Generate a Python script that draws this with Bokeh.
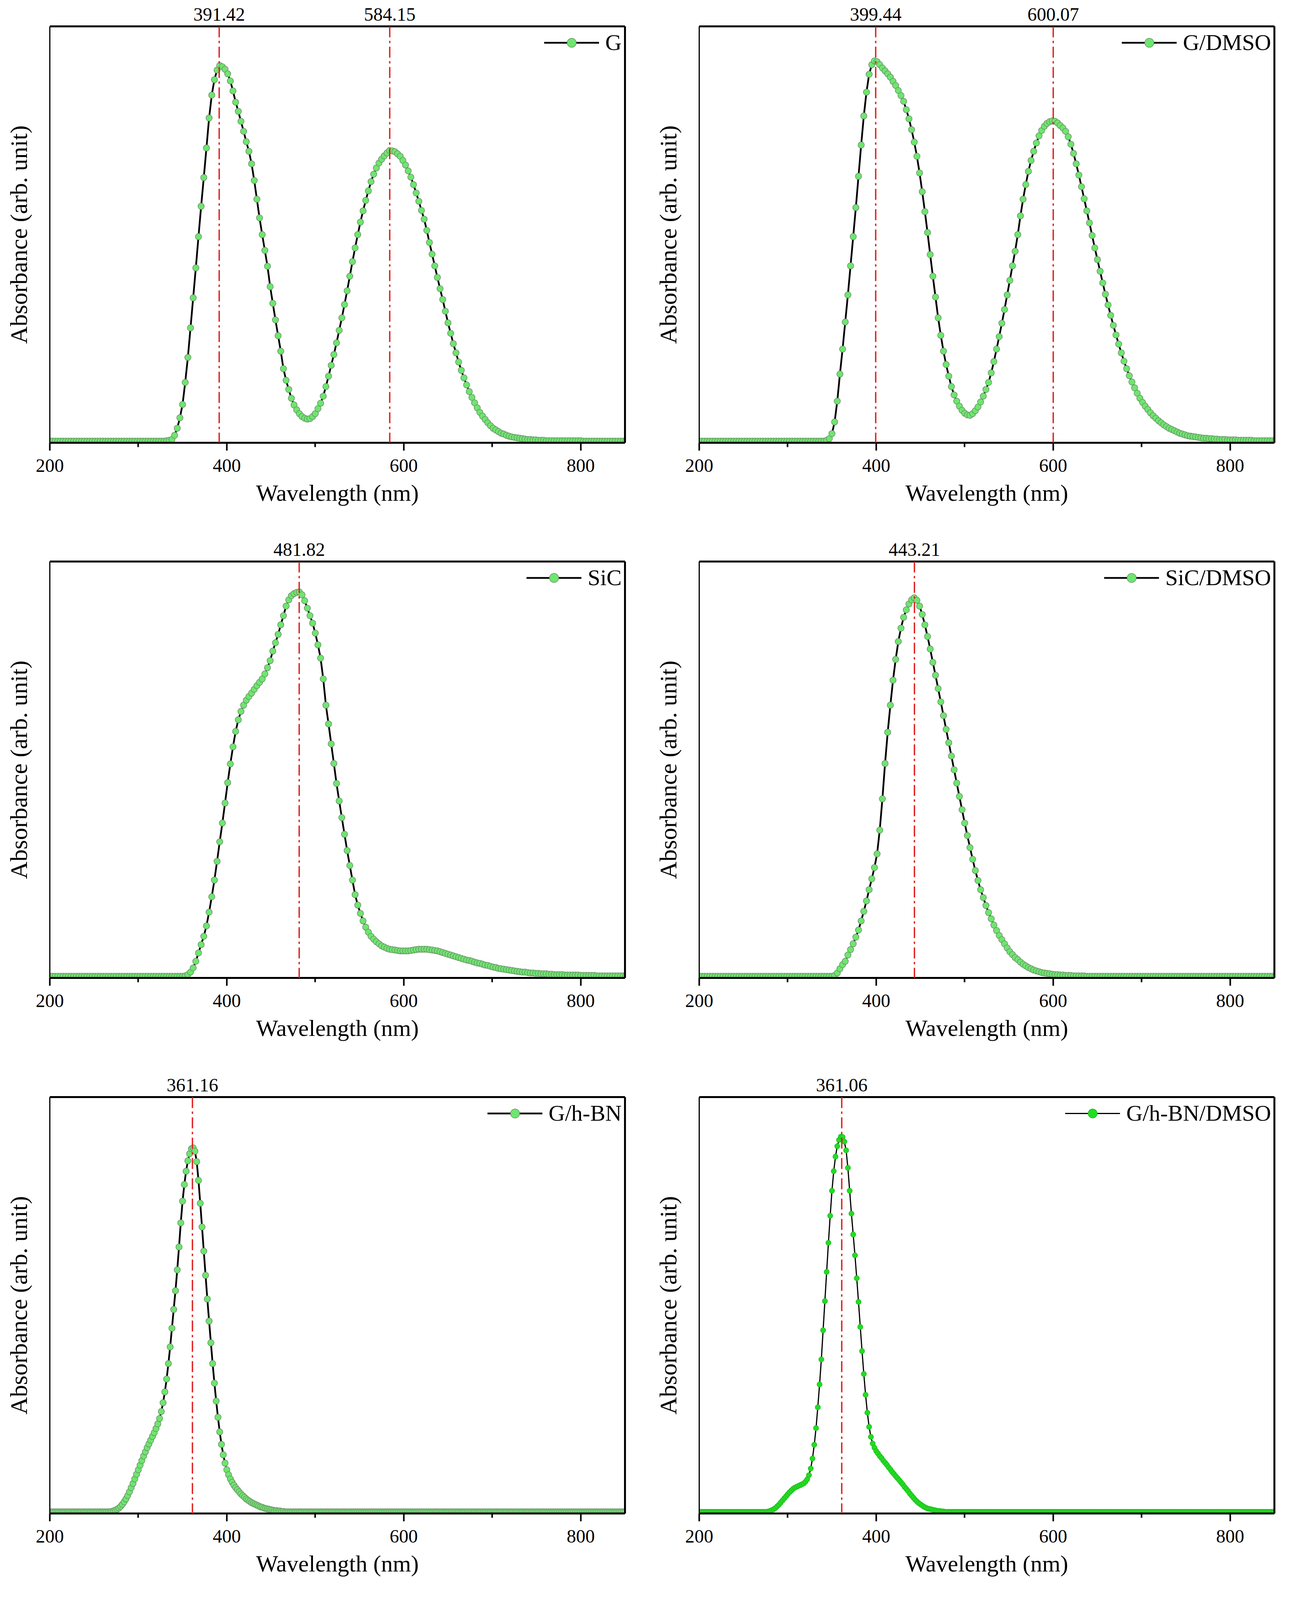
import numpy as np
from bokeh.plotting import figure
from bokeh.models import (Range1d, LinearAxis, FixedTicker, Span, Legend,
                          LegendItem, NumeralTickFormatter)
from bokeh.layouts import column, row
from bokeh.embed import file_html
from bokeh.resources import INLINE

# ---------------- data (absorbance, arb. units) ----------------
LABELS = ["G", "G/DMSO", "SiC", "SiC/DMSO", "G/h-BN", "G/h-BN/DMSO"]
WL_START = [200, 200, 200, 200, 200, 200]          # nm
WL_STEP = [3, 3, 3, 3, 2, 2]                       # nm
PEAKS = [[391.42, 584.15], [399.44, 600.07], [481.82], [443.21], [361.16], [361.06]]

G_ABS = """
4 4 4 4 4 4 4 4 4 4
4 4 4 4 4 4 4 4 4 4
4 4 4 4 4 4 4 4 4 4
4 4 4 4 4 4 4 4 4 4
4 4 4 4 5 6 8 18 35 60
92 145 205 276 348 420 495 568 637 708
780 835 872 895 906 903 897 886 869 845
818 796 772 748 723 700 670 630 585 540
500 462 424 375 335 295 257 220 178 150
128 107 91 79 70 63 59 57 58 63
70 82 95 112 135 160 186 212 240 270
300 332 365 400 435 468 500 530 557 582
605 627 645 660 672 681 689 696 702 701
699 694 688 678 667 653 638 620 600 580
558 537 510 481 453 425 397 370 344 316
288 263 238 216 194 174 156 139 123 109
96 84 73 64 56 48 41 35 31 27
23 21 18 16 14 13 12 11 10 9
8 8 7 7 6 6 6 5 5 5
5 5 5 5 5 5 5 5 5 5
5 4 4 4 4 4 4 4 4 4
4 4 4 4 4 4 4 4
"""

G_DMSO_ABS = """
4 4 4 4 4 4 4 4 4 4
4 4 4 4 4 4 4 4 4 4
4 4 4 4 4 4 4 4 4 4
4 4 4 4 4 4 4 4 4 4
4 4 4 4 4 4 4 4 6 10
22 50 100 165 225 290 355 425 495 565
640 715 785 842 885 908 917 915 908 900
893 886 878 868 858 846 834 820 800 778
752 722 688 648 603 555 505 452 400 350
300 258 220 188 160 135 115 100 88 78
71 67 66 70 77 86 98 112 128 145
168 195 225 255 287 320 355 390 425 460
500 545 585 620 652 678 700 720 737 750
760 767 771 773 772 768 762 756 748 735
717 695 670 643 615 586 557 528 498 468
440 412 384 357 331 306 282 259 237 216
196 178 161 146 132 119 107 97 88 80
72 65 59 53 48 43 39 35 32 29
26 23 21 19 17 16 15 14 13 12
11 11 10 10 9 9 8 8 8 7
7 7 7 6 6 6 6 6 6 5
5 5 5 5 5 5 5 5
"""

SIC_ABS = """
4 4 4 4 4 4 4 4 4 4
4 4 4 4 4 4 4 4 4 4
4 4 4 4 4 4 4 4 4 4
4 4 4 4 4 4 4 4 4 4
4 4 4 4 4 4 4 4 4 4
4 5 8 14 24 40 60 80 100 125
158 195 235 280 327 372 420 469 514 555
592 620 640 655 667 676 684 693 702 710
718 730 745 762 785 805 825 848 870 893
908 918 923 926 927 920 906 888 870 852
828 800 768 718 655 610 562 515 467 425
385 345 306 270 235 200 175 155 137 122
110 100 93 87 82 77 74 71 69 68
67 66 65 65 65 65 66 67 68 69
69 69 69 68 67 66 65 63 61 59
57 55 53 51 49 47 45 43 42 40
38 36 35 33 31 30 28 26 25 23
22 21 20 19 18 17 16 15 14 14
13 12 12 11 11 10 10 10 9 9
8 8 8 8 7 7 7 7 7 7
6 6 6 6 6 6 5 5 5 5
5 5 5 5 5 5 5 5
"""

SIC_DMSO_ABS = """
4 4 4 4 4 4 4 4 4 4
4 4 4 4 4 4 4 4 4 4
4 4 4 4 4 4 4 4 4 4
4 4 4 4 4 4 4 4 4 4
4 4 4 4 4 4 4 4 4 4
4 6 12 22 32 40 55 68 82 98
115 137 160 185 212 238 265 298 355 430
515 590 655 715 765 808 840 866 884 898
908 913 907 893 873 848 820 790 758 727
695 663 630 597 565 533 500 468 436 404
372 342 313 285 258 234 212 193 174 157
142 127 114 102 92 82 72 63 56 49
44 38 33 29 25 22 19 17 15 13
12 11 10 9 8 8 7 7 6 6
6 5 5 5 5 5 4 4 4 4
4 4 4 4 4 4 4 4 4 4
4 4 4 4 4 4 4 4 4 4
4 4 4 4 4 4 4 4 4 4
4 4 4 4 4 4 4 4 4 4
4 4 4 4 4 4 4 4 4 4
4 4 4 4 4 4 4 4 4 4
4 4 4 4 4 4 4 4
"""

GHBN_ABS = """
4 4 4 4 4 4 4 4 4 4
4 4 4 4 4 4 4 4 4 4
4 4 4 4 4 4 4 4 4 4
4 4 4 4 4 5 6 8 10 13
17 22 28 35 43 52 62 72 83 94
105 116 127 138 148 158 167 176 185 194
204 215 228 245 266 292 323 360 400 445
490 535 585 640 698 750 790 822 847 864
876 878 870 845 800 745 688 630 572 515
462 410 360 313 270 231 196 166 141 121
105 93 83 75 68 62 57 52 47 43
39 35 32 29 26 24 22 20 18 16
15 13 12 11 10 9 8 7 7 6
6 5 5 4 4 4 4 4 4 4
4 4 4 4 4 4 4 4 4 4
4 4 4 4 4 4 4 4 4 4
4 4 4 4 4 4 4 4 4 4
4 4 4 4 4 4 4 4 4 4
4 4 4 4 4 4 4 4 4 4
4 4 4 4 4 4 4 4 4 4
4 4 4 4 4 4 4 4 4 4
4 4 4 4 4 4 4 4 4 4
4 4 4 4 4 4 4 4 4 4
4 4 4 4 4 4 4 4 4 4
4 4 4 4 4 4 4 4 4 4
4 4 4 4 4 4 4 4 4 4
4 4 4 4 4 4 4 4 4 4
4 4 4 4 4 4 4 4 4 4
4 4 4 4 4 4 4 4 4 4
4 4 4 4 4 4 4 4 4 4
4 4 4 4 4 4 4 4 4 4
4 4 4 4 4 4 4 4 4 4
4 4 4 4 4 4
"""

GHBN_DMSO_ABS = """
4 4 4 4 4 4 4 4 4 4
4 4 4 4 4 4 4 4 4 4
4 4 4 4 4 4 4 4 4 4
4 4 4 4 4 4 4 4 4 5
6 8 10 13 17 21 26 31 36 41
46 51 55 59 62 64 66 68 70 72
76 82 92 108 132 165 205 255 310 370
440 510 580 650 715 775 822 857 882 897
905 904 893 872 830 775 720 670 620 565
508 448 390 335 285 242 208 184 168 158
150 144 138 133 127 122 117 111 106 100
95 90 85 80 75 70 64 59 54 48
43 38 33 29 25 22 19 16 14 12
11 10 9 8 7 6 6 5 5 4
4 4 4 4 4 4 4 4 4 4
4 4 4 4 4 4 4 4 4 4
4 4 4 4 4 4 4 4 4 4
4 4 4 4 4 4 4 4 4 4
4 4 4 4 4 4 4 4 4 4
4 4 4 4 4 4 4 4 4 4
4 4 4 4 4 4 4 4 4 4
4 4 4 4 4 4 4 4 4 4
4 4 4 4 4 4 4 4 4 4
4 4 4 4 4 4 4 4 4 4
4 4 4 4 4 4 4 4 4 4
4 4 4 4 4 4 4 4 4 4
4 4 4 4 4 4 4 4 4 4
4 4 4 4 4 4 4 4 4 4
4 4 4 4 4 4 4 4 4 4
4 4 4 4 4 4 4 4 4 4
4 4 4 4 4 4 4 4 4 4
4 4 4 4 4 4 4 4 4 4
4 4 4 4 4 4
"""

SERIES = [G_ABS, G_DMSO_ABS, SIC_ABS, SIC_DMSO_ABS, GHBN_ABS, GHBN_DMSO_ABS]
X_TICKS = [200, 400, 600, 800]
X_MINOR = [300, 500, 700]

# ---------------- styling ----------------
FONT = "Liberation Serif"
RED = "#e0201e"


def parse(s):
    return [float(v) for v in s.split()]


def make_panel(idx, width, border_right, height, border_bottom):
    vals = parse(SERIES[idx])
    wl = [WL_START[idx] + WL_STEP[idx] * i for i in range(len(vals))]
    p = figure(width=width, height=height,
               x_range=Range1d(200, 850), y_range=Range1d(0, 1000),
               output_backend="svg", toolbar_location=None,
               x_axis_location=None, y_axis_location=None,
               min_border_left=127, min_border_right=border_right,
               min_border_top=67, min_border_bottom=border_bottom)
    p.outline_line_color = None
    p.background_fill_color = "white"
    p.border_fill_color = "white"
    p.grid.visible = False

    xa = LinearAxis(ticker=FixedTicker(ticks=X_TICKS, minor_ticks=X_MINOR),
                    axis_label="Wavelength (nm)")
    xa.axis_line_width = 5
    xa.axis_line_color = "black"
    xa.major_tick_line_width = 4
    xa.minor_tick_line_width = 4
    xa.major_tick_out = 20
    xa.major_tick_in = 0
    xa.minor_tick_out = 11
    xa.minor_tick_in = 0
    xa.major_label_text_font = FONT
    xa.major_label_text_font_size = "48px"
    xa.major_label_text_color = "black"
    xa.major_label_standoff = 22
    xa.axis_label_text_font = FONT
    xa.axis_label_text_font_size = "60px"
    xa.axis_label_text_font_style = "normal"
    xa.axis_label_text_color = "black"
    xa.axis_label_standoff = 18
    p.add_layout(xa, "below")

    ya = LinearAxis(ticker=FixedTicker(ticks=[]), axis_label="Absorbance (arb. unit)")
    ya.axis_line_width = 3
    ya.major_tick_line_color = None
    ya.minor_tick_line_color = None
    ya.major_label_text_font_size = "0px"
    ya.axis_label_text_font = FONT
    ya.axis_label_text_font_size = "62px"
    ya.axis_label_text_font_style = "normal"
    ya.axis_label_text_color = "black"
    ya.axis_label_standoff = 46
    p.add_layout(ya, "left")

    ta = LinearAxis(ticker=FixedTicker(ticks=PEAKS[idx]),
                    formatter=NumeralTickFormatter(format="0.00"))
    ta.axis_line_width = 5
    ta.major_tick_out = 0
    ta.major_tick_in = 0
    ta.minor_tick_line_color = None
    ta.major_tick_line_color = None
    ta.major_label_text_font = FONT
    ta.major_label_text_font_size = "48px"
    ta.major_label_text_color = "black"
    ta.major_label_standoff = 15
    p.add_layout(ta, "above")

    ra = LinearAxis(ticker=FixedTicker(ticks=[]))
    ra.axis_line_width = 5
    ra.major_tick_line_color = None
    ra.minor_tick_line_color = None
    ra.major_label_text_font_size = "0px"
    p.add_layout(ra, "right")

    if idx == 5:
        fill, edge, msize, lw = "#22dd22", "#1cbf1c", 13, 3
    else:
        fill, edge, msize, lw = "#6ee66e", "#6b8f6b", 16, 4.5

    ln = p.line(wl, vals, line_color="black", line_width=lw)
    sc = p.scatter(wl, vals, marker="circle", size=msize, fill_color=fill,
                   line_color=edge, line_width=1.5)

    for pk in PEAKS[idx]:
        p.add_layout(Span(location=pk, dimension="height", line_color=RED,
                          line_width=3.5, line_dash="28 9 6 9"))

    leg = Legend(items=[LegendItem(label=LABELS[idx], renderers=[ln, sc])],
                 location="top_right")
    leg.border_line_color = None
    leg.background_fill_alpha = 0
    leg.label_text_font = FONT
    leg.label_text_font_size = "58px"
    leg.label_text_color = "black"
    leg.glyph_width = 141
    leg.glyph_height = 58
    leg.label_standoff = 16
    leg.margin = 8
    leg.padding = 10
    p.add_layout(leg)
    return p


panels = []
rows_spec = [(1370, 237), (1371, 238), (1323, 190)]
for r, (h, bb) in enumerate(rows_spec):
    left = make_panel(2 * r, 1662, 63, h, bb)
    right = make_panel(2 * r + 1, 1622, 23, h, bb)
    panels.append(row(left, right))

layout = column(*panels)
open("out.html", "w").write(file_html(layout, INLINE))
